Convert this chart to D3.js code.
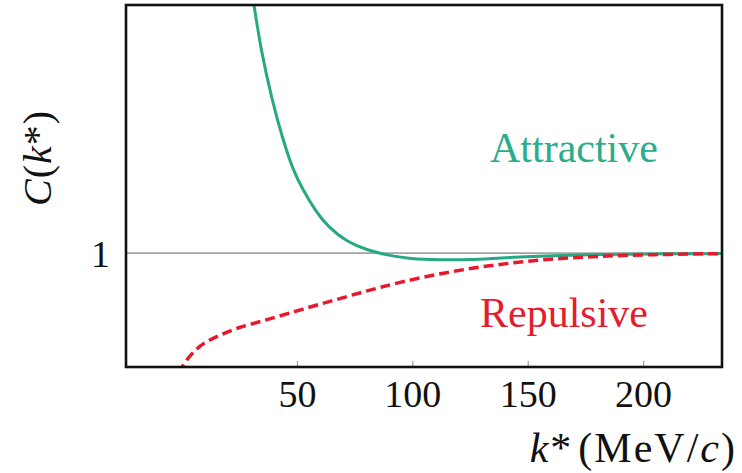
<!DOCTYPE html>
<html>
<head>
<meta charset="utf-8">
<script src="https://cdn.jsdelivr.net/npm/d3@7"></script>
<style>
  html, body { margin: 0; padding: 0; background: #fff; }
</style>
</head>
<body>
<div id="chart"></div>
<script>
// k* (MeV/c) and C(k*)
const attractiveK = [30.06, 31.36, 34.40, 39.16, 43.93, 48.27, 52.60, 57.80, 63.44, 71.67, 80.34, 89.01, 98.98, 111.99, 124.99, 137.99, 155.33, 168.34, 181.34, 203.01, 234.2];
const attractiveC = [2.059, 1.980, 1.802, 1.605, 1.447, 1.328, 1.249, 1.170, 1.103, 1.044, 1.012, 0.992, 0.977, 0.973, 0.973, 0.981, 0.988, 0.992, 0.995, 0.997, 0.998];

const repulsiveK = [-1.15, 0.15, 3.62, 9.26, 16.62, 23.99, 32.66, 41.33, 52.60, 64.30, 76.01, 94.65, 116.32, 137.99, 159.67, 181.34, 203.01, 234.2];
const repulsiveC = [0.526, 0.550, 0.597, 0.645, 0.676, 0.704, 0.726, 0.748, 0.779, 0.809, 0.840, 0.886, 0.927, 0.957, 0.977, 0.988, 0.994, 0.998];

const xTicks = [50, 100, 150, 200];
const yTicks = [1];

const w = 742;
const h = 473;
const padLeft = 126, padRight = 722, padTop = 5, padBottom = 367;

const xScale = d3.scaleLinear().domain([-24.1, 234.2]).range([padLeft, padRight]);
const yScale = d3.scaleLinear().domain([0.55, 1.98]).range([padBottom, padTop]);

const svg = d3.select("#chart")
    .append("svg")
    .attr("width", w)
    .attr("height", h);

svg.append("defs")
    .append("clipPath")
    .attr("id", "plot-clip")
    .append("rect")
    .attr("x", padLeft)
    .attr("y", padTop)
    .attr("width", padRight - padLeft)
    .attr("height", padBottom - padTop);

// reference line at C = 1
svg.append("line")
    .attr("x1", padLeft)
    .attr("x2", padRight)
    .attr("y1", yScale(1))
    .attr("y2", yScale(1))
    .attr("stroke", "#a3a3a3")
    .attr("stroke-width", 1.6);

// b-spline smooths out the small reading errors
const line = d3.line()
    .x(d => xScale(d[0]))
    .y(d => yScale(d[1]))
    .curve(d3.curveBasis);

const plot = svg.append("g").attr("clip-path", "url(#plot-clip)");

plot.append("path")
    .datum(attractiveK.map((k, i) => [k, attractiveC[i]]))
    .attr("d", line)
    .attr("fill", "none")
    .attr("stroke", "#27a884")
    .attr("stroke-width", 3);

plot.append("path")
    .datum(repulsiveK.map((k, i) => [k, repulsiveC[i]]))
    .attr("d", line)
    .attr("fill", "none")
    .attr("stroke", "#e8192c")
    .attr("stroke-width", 3.5)
    .attr("stroke-dasharray", "10,5");

// axes
const xAxis = d3.axisBottom(xScale).tickValues(xTicks).tickSizeInner(-6).tickSizeOuter(0);
const gx = svg.append("g")
    .attr("transform", "translate(0," + padBottom + ")")
    .call(xAxis);
gx.select(".domain").remove();
gx.selectAll(".tick line").attr("stroke", "#999").attr("stroke-width", 1.2);
gx.selectAll(".tick text")
    .attr("y", 40)
    .attr("dy", null)
    .style("font-family", "'Liberation Serif', serif")
    .style("font-size", "38px")
    .attr("fill", "#111");

const yAxis = d3.axisLeft(yScale).tickValues(yTicks).tickFormat(d3.format("d")).tickSize(0).tickPadding(16);
const gy = svg.append("g")
    .attr("transform", "translate(" + padLeft + ",0)")
    .call(yAxis);
gy.select(".domain").remove();
gy.selectAll(".tick text")
    .attr("dy", "0.35em")
    .style("font-family", "'Liberation Serif', serif")
    .style("font-size", "38px")
    .attr("fill", "#111");

// frame
svg.append("rect")
    .attr("x", padLeft)
    .attr("y", padTop)
    .attr("width", padRight - padLeft)
    .attr("height", padBottom - padTop)
    .attr("fill", "none")
    .attr("stroke", "#111")
    .attr("stroke-width", 2.6);

// labels in the plot
svg.append("text")
    .attr("x", 490)
    .attr("y", 162)
    .text("Attractive")
    .style("font-family", "'Liberation Serif', serif")
    .style("font-size", "42px")
    .attr("fill", "#2bac8b");

svg.append("text")
    .attr("x", 480)
    .attr("y", 327)
    .text("Repulsive")
    .style("font-family", "'Liberation Serif', serif")
    .style("font-size", "42px")
    .attr("fill", "#e41d2e");

// axis titles
const xTitle = svg.append("text")
    .attr("x", 737)
    .attr("y", 462)
    .attr("text-anchor", "end")
    .style("font-family", "'Liberation Serif', serif")
    .style("font-size", "42px")
    .style("letter-spacing", "2px")
    .attr("fill", "#111");
xTitle.append("tspan").style("font-style", "italic").text("k");
xTitle.append("tspan").text("*");
xTitle.append("tspan").attr("dx", 5).text("(MeV/");
xTitle.append("tspan").style("font-style", "italic").text("c");
xTitle.append("tspan").text(")");

const yTitle = svg.append("text")
    .attr("transform", "translate(51,158) rotate(-90)")
    .attr("text-anchor", "middle")
    .style("font-family", "'Liberation Serif', serif")
    .style("font-size", "40px")
    .style("letter-spacing", "1px")
    .attr("fill", "#111");
yTitle.append("tspan").style("font-style", "italic").text("C");
yTitle.append("tspan").text("(");
yTitle.append("tspan").style("font-style", "italic").text("k");
yTitle.append("tspan").text("*)");
</script>
</body>
</html>
